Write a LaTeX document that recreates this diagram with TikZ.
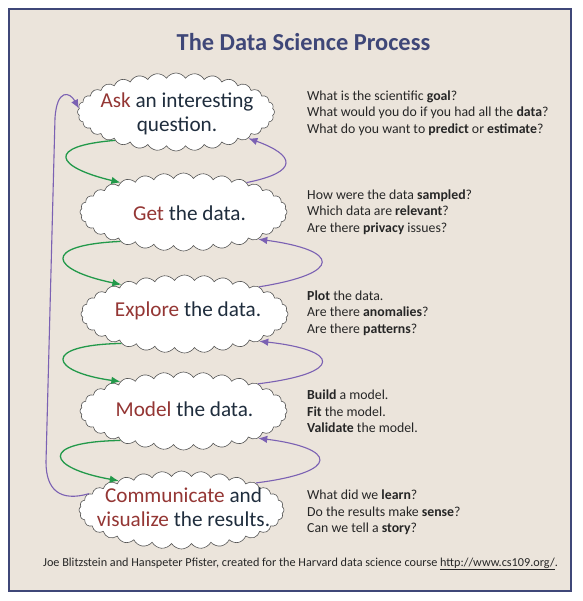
\documentclass[tikz,border=0pt]{standalone}
\usepackage{fontspec}
\setmainfont{Carlito}
\usetikzlibrary{shapes.symbols,arrows.meta}
\definecolor{bgc}{HTML}{EBE4DB}
\definecolor{framec}{HTML}{3F4778}
\definecolor{redw}{HTML}{943634}
\definecolor{darkw}{HTML}{1F2D3D}
\definecolor{grnc}{HTML}{22994A}
\definecolor{prpc}{HTML}{7B61B3}
\definecolor{cloudline}{HTML}{555555}
\tikzset{
  cloudbox/.style={cloud, cloud puffs=32, cloud puff arc=115, cloud ignores aspect,
    draw=cloudline, line width=0.6pt, fill=white, inner sep=0pt,
    minimum width=207pt, minimum height=78pt},
  cloudtext/.style={font=\fontsize{21.2}{24}\selectfont, text=darkw, align=center, inner sep=0pt},
  sidetext/.style={font=\fontsize{13.8}{16.5}\selectfont, text=black!85, align=left, anchor=west, inner sep=0pt},
  grn/.style={draw=grnc, line width=1.3pt, -{Latex[length=9pt,width=7.5pt]}},
  prp/.style={draw=prpc, line width=1.1pt, -{Latex[length=9pt,width=7.5pt]}},
}
\newcommand{\rw}[1]{\textcolor{redw}{#1}}
\begin{document}
\begin{tikzpicture}[x=1pt,y=-1pt]
\useasboundingbox (0,0) rectangle (582,601);
\draw[line width=2.5pt, draw=framec, fill=bgc] (9,9) rectangle (571,591);
\node[font=\fontsize{24.4}{28}\selectfont\bfseries, text=framec] (title) at (303.5,42) {The Data Science Process};

% clouds
\node[cloudbox, minimum width=197pt] (c1) at (176,112) {};
\node[cloudbox] (c2) at (183.5,212) {};
\node[cloudbox] (c3) at (184.5,314) {};
\node[cloudbox] (c4) at (183.5,411) {};
\node[cloudbox, minimum width=205pt] (c5) at (181.5,510) {};

\node[cloudtext] (t1) at (177,114) {\rw{Ask} an interesting\\question.};
\node[cloudtext] (t2) at (189.5,213) {\rw{Get} the data.};
\node[cloudtext] (t3) at (188,311) {\rw{Explore} the data.};
\node[cloudtext] (t4) at (184.5,409) {\rw{Model} the data.};
\node[cloudtext] (t5) at (183.5,507) {\rw{Communicate} and\\\rw{visualize} the results.};

% side texts
\node[sidetext] (s1) at (307,113) {What is the scientific \textbf{goal}?\\What would you do if you had all the \textbf{data}?\\What do you want to \textbf{predict} or \textbf{estimate}?};
\node[sidetext] (s2) at (307,212) {How were the data \textbf{sampled}?\\Which data are \textbf{relevant}?\\Are there \textbf{privacy} issues?};
\node[sidetext] (s3) at (307,313) {\textbf{Plot} the data.\\Are there \textbf{anomalies}?\\Are there \textbf{patterns}?};
\node[sidetext] (s4) at (307,411.5) {\textbf{Build} a model.\\\textbf{Fit} the model.\\\textbf{Validate} the model.};
\node[sidetext] (s5) at (307,512.5) {What did we \textbf{learn}?\\Do the results make \textbf{sense}?\\Can we tell a \textbf{story}?};

\node[font=\fontsize{12.2}{14}\selectfont, text=black!85] (cap) at (300.5,564) {Joe Blitzstein and Hanspeter Pfister, created for the Harvard data science course \underline{http://www.cs109.org/}.};

% green arrows (forward)
\draw[grn] (c1.205) .. controls (45,146) and (55,167) .. (c2.155);
\draw[grn] (c2.205) .. controls (40,245) and (50,270) .. (c3.155);
\draw[grn] (c3.205) .. controls (40,345) and (50,372) .. (c4.155);
\draw[grn] (c4.205) .. controls (37,442) and (47,468) .. (c5.155);

% purple arrows (back)
\draw[prp] (c2.25) .. controls (300,172) and (295,155) .. (c1.340);
\draw[prp] (c3.20) .. controls (345,273) and (339,250) .. (c2.340);
\draw[prp] (c4.20) .. controls (345,373) and (340,350) .. (c3.340);
\draw[prp] (c5.20) .. controls (342,472) and (337,448) .. (c4.340);

% big loop
\draw[prp] (c5.170) .. controls (60,502) and (46,490) .. (46,462) -- (55,118) .. controls (57,88) and (70,92) .. (c1.178);
\end{tikzpicture}
\end{document}
